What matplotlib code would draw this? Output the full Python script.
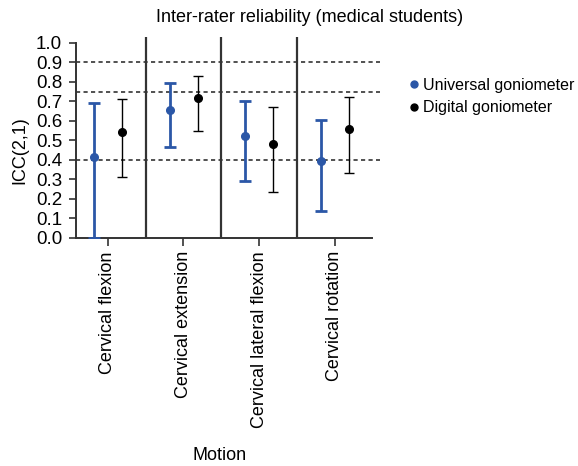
import numpy as np
import matplotlib.pyplot as plt
from matplotlib.lines import Line2D

plt.rcParams['font.family'] = ['Liberation Sans', 'DejaVu Sans']

# ICC(2,1) values with 95% CI
motions = ['Cervical flexion', 'Cervical extension', 'Cervical lateral flexion', 'Cervical rotation']
universal_icc = [0.417, 0.658, 0.525, 0.393]
universal_low = [0.0, 0.465, 0.294, 0.137]
universal_high = [0.694, 0.795, 0.704, 0.603]
digital_icc = [0.542, 0.718, 0.480, 0.557]
digital_low = [0.314, 0.549, 0.234, 0.332]
digital_high = [0.713, 0.832, 0.670, 0.723]
thresholds = [0.4, 0.75, 0.9]

blue = '#2b57a7'
x = np.arange(len(motions))

fig = plt.figure(figsize=(5.78, 4.66), dpi=100)
ax = fig.add_axes([76/578, 1 - 238/466, (380-76)/578, (238-37)/466])

u = np.array(universal_icc)
d = np.array(digital_icc)
ax.errorbar(x - 0.18, u, yerr=[u - np.array(universal_low), np.array(universal_high) - u],
            fmt='o', color=blue, ms=5.5, elinewidth=2, capsize=4, capthick=2, zorder=3)
ax.errorbar(x + 0.19, d, yerr=[d - np.array(digital_low), np.array(digital_high) - d],
            fmt='o', color='black', ms=5.5, elinewidth=1, capsize=3.5, capthick=1, zorder=3)

for t in thresholds:
    ax.axhline(t, color='#333333', ls=(0, (2.5, 2)), lw=1.2, zorder=1)
for s in x[:-1] + 0.5:
    ax.axvline(s, color='#333333', lw=1.6, zorder=2)

ax.set_xlim(-0.42, 3.6)
ax.set_ylim(0, 1.03)
ax.set_yticks(np.arange(0, 1.01, 0.1))
ax.set_yticklabels([f'{v:.1f}' for v in np.arange(0, 1.01, 0.1)], fontsize=13.5)
ax.set_xticks(x)
ax.set_xticklabels(motions, rotation=90, fontsize=13)
ax.tick_params(axis='y', length=5, width=1.2, color='#333333', pad=5)
ax.tick_params(axis='x', length=6, width=1.2, color='#333333')

for side in ['top', 'right']:
    ax.spines[side].set_visible(False)
ax.spines['left'].set_bounds(0, 1.0)
ax.spines['bottom'].set_bounds(-0.42, 3.49)
for side in ['left', 'bottom']:
    ax.spines[side].set_linewidth(1.4)
    ax.spines[side].set_color('#333333')

fig.text(20/578, 1 - 150/466, 'ICC(2,1)', rotation=90, ha='center', va='center', fontsize=13)
fig.text(220/578, 1 - 456/466, 'Motion', ha='center', va='center', fontsize=13)
fig.text(310/578, 1 - 18/466, 'Inter-rater reliability (medical students)',
         ha='center', va='center', fontsize=13)

handles = [Line2D([], [], marker='o', ls='none', color=blue, ms=5),
           Line2D([], [], marker='o', ls='none', color='black', ms=5)]
fig.legend(handles, ['Universal goniometer', 'Digital goniometer'],
           loc='upper left', bbox_to_anchor=(410/578, 1 - 78/466), frameon=False,
           fontsize=11.5, handlelength=0.5, handletextpad=0.3, labelspacing=0.45,
           borderaxespad=0, borderpad=0)

fig.savefig('out.png', dpi=100)
